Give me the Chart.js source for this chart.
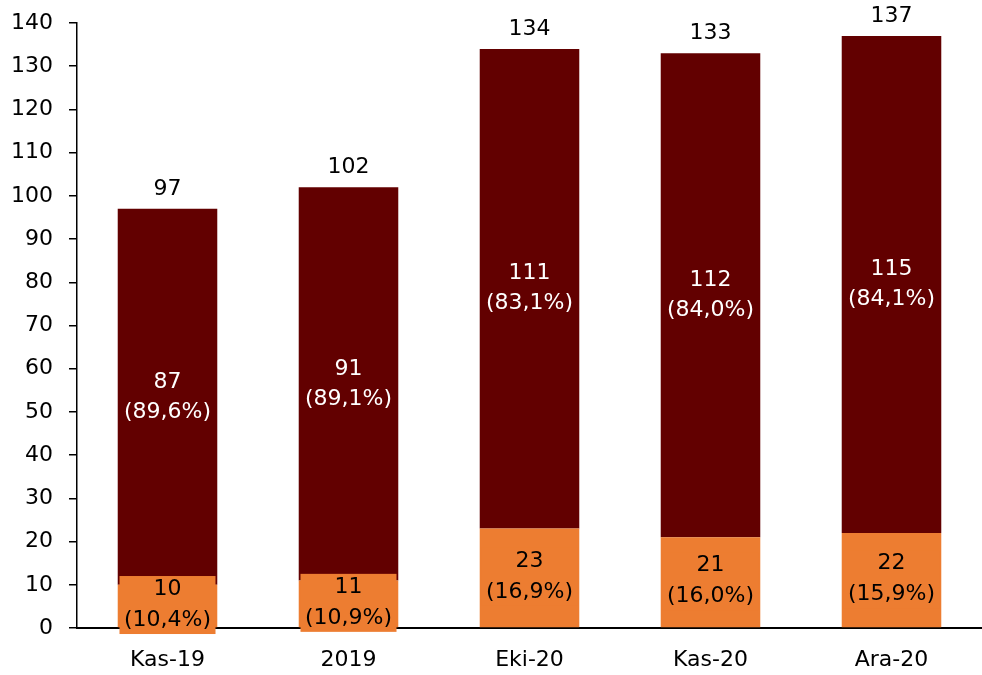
<!DOCTYPE html>
<html>
<head>
<meta charset="utf-8">
<script src="https://cdn.jsdelivr.net/npm/chart.js@4/dist/chart.umd.min.js"></script>
<style>
  body { margin: 0; background: #fff; }
</style>
</head>
<body>
<canvas id="chart" width="982" height="675"></canvas>
<script>
const categories = ['Kas-19', '2019', 'Eki-20', 'Kas-20', 'Ara-20'];
const orangeValues = [10, 11, 23, 21, 22];
const darkValues = [87, 91, 111, 112, 115];
const totals = [97, 102, 134, 133, 137];
const orangeShares = ['(10,4%)', '(10,9%)', '(16,9%)', '(16,0%)', '(15,9%)'];
const darkShares = ['(89,6%)', '(89,1%)', '(83,1%)', '(84,0%)', '(84,1%)'];
const yMin = 0, yMax = 140, yStep = 10;

const ORANGE = '#ED7D31';
const DARK = '#620000';
const FONT = '"DejaVu Sans", sans-serif';

// draws the value labels on and above the bars
const barLabels = {
  id: 'barLabels',
  afterDatasetsDraw(chart) {
    const ctx = chart.ctx;
    const orangeBars = chart.getDatasetMeta(0).data;
    const darkBars = chart.getDatasetMeta(1).data;
    ctx.save();
    ctx.font = '22px ' + FONT;
    ctx.textAlign = 'center';
    ctx.textBaseline = 'middle';
    orangeBars.forEach((bar, i) => {
      const mid = (bar.y + bar.base) / 2;
      ctx.fillStyle = ORANGE;
      ctx.fillRect(bar.x - 48, mid - 30, 96, 58);
      ctx.fillStyle = '#000';
      ctx.fillText(String(orangeValues[i]), bar.x, mid - 17);
      ctx.fillText(orangeShares[i], bar.x, mid + 14);
    });
    darkBars.forEach((bar, i) => {
      const mid = (bar.y + bar.base) / 2;
      ctx.fillStyle = '#fff';
      ctx.fillText(String(darkValues[i]), bar.x, mid - 15);
      ctx.fillText(darkShares[i], bar.x, mid + 15);
      ctx.fillStyle = '#000';
      ctx.fillText(String(totals[i]), bar.x, bar.y - 20);
    });
    ctx.restore();
  }
};

const ctx = document.getElementById('chart').getContext('2d');
const chart = new Chart(ctx, {
  type: 'bar',
  data: {
    labels: categories,
    datasets: [
      {
        data: orangeValues,
        backgroundColor: ORANGE,
        barPercentage: 0.55,
        categoryPercentage: 1.0
      },
      {
        data: darkValues,
        backgroundColor: DARK,
        barPercentage: 0.55,
        categoryPercentage: 1.0
      }
    ]
  },
  options: {
    responsive: false,
    animation: false,
    layout: { padding: { top: 23, right: 0, left: 0, bottom: 0 } },
    plugins: {
      legend: { display: false },
      tooltip: { enabled: false }
    },
    scales: {
      x: {
        stacked: true,
        grid: { display: false },
        border: { color: '#000', width: 2 },
        ticks: { color: '#000', font: { size: 22, family: FONT }, padding: 11 },
        afterFit(scale) { scale.height = 47; }
      },
      y: {
        stacked: true,
        min: yMin,
        max: yMax,
        grid: { drawOnChartArea: false, drawTicks: true, tickLength: 8, color: '#000', lineWidth: 1.5 },
        border: { color: '#000', width: 1.5 },
        ticks: { stepSize: yStep, color: '#000', font: { size: 22, family: FONT, lineHeight: 0.5 }, padding: 16 },
        afterFit(scale) { scale.width = 77; }
      }
    }
  },
  plugins: [barLabels]
});
</script>
</body>
</html>
